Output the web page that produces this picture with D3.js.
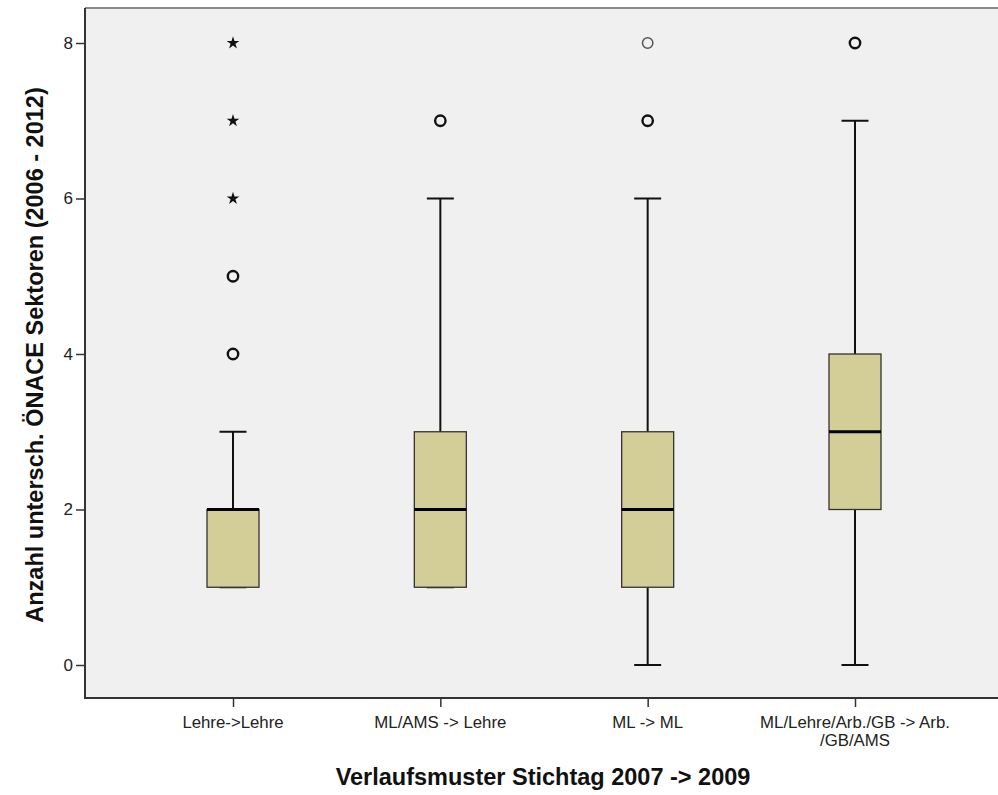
<!DOCTYPE html>
<html><head><meta charset="utf-8">
<script src="https://cdn.jsdelivr.net/npm/d3@7"></script>
<style>body{margin:0;background:#fff}svg{display:block}</style>
</head><body>
<svg id="c" width="998" height="795"></svg>
<script>
const categories = ["Lehre->Lehre", "ML/AMS -> Lehre", "ML -> ML", "ML/Lehre/Arb./GB -> Arb. /GB/AMS"];
const categoryLines = [["Lehre->Lehre"], ["ML/AMS -> Lehre"], ["ML -> ML"], ["ML/Lehre/Arb./GB -> Arb.", "/GB/AMS"]];
const whiskerLow = [1, 1, 0, 0];
const q1 = [1, 1, 1, 2];
const median = [2, 2, 2, 3];
const q3 = [2, 3, 3, 4];
const whiskerHigh = [3, 6, 6, 7];
const outliers = [[4, 5], [7], [7, 8], [8]];
const extremes = [[6, 7, 8], [], [], []];
const yTicks = [0, 2, 4, 6, 8];
const yTitle = "Anzahl untersch. ÖNACE Sektoren (2006 - 2012)";
const xTitle = "Verlaufsmuster Stichtag 2007 -> 2009";

const svg = d3.select("#c");
const L = 85, T = 8, B = 698, R = 1000;
const y = d3.scaleLinear().domain([0, 8]).range([665, 43]);
const x = d3.scalePoint().domain(categories).range([233, 855]);

svg.append("rect").attr("x", L).attr("y", T).attr("width", R - L).attr("height", B - T).attr("fill", "#f0f0f0");
svg.append("line").attr("x1", L).attr("x2", R).attr("y1", T).attr("y2", T).attr("stroke", "#8a8a8a").attr("stroke-width", 2);

const font = "Arial, 'Liberation Sans', sans-serif";
// y axis
const ya = svg.append("g").attr("transform", `translate(${L},0)`)
  .call(d3.axisLeft(y).tickValues(yTicks).tickSize(9).tickPadding(3).tickFormat(d3.format("d")));
ya.select(".domain").remove();
ya.selectAll(".tick line").attr("stroke", "#333").attr("stroke-width", 1.5);
ya.selectAll(".tick text").attr("font-family", font).attr("font-size", 17).attr("fill", "#222");
svg.append("line").attr("x1", L).attr("x2", L).attr("y1", T).attr("y2", B + 1).attr("stroke", "#333").attr("stroke-width", 2);

// x axis
const xa = svg.append("g").attr("transform", `translate(0,${B})`)
  .call(d3.axisBottom(x).tickSize(9).tickFormat(""));
xa.select(".domain").remove();
xa.selectAll(".tick line").attr("stroke", "#333").attr("stroke-width", 1.5);
svg.append("line").attr("x1", L - 1).attr("x2", R).attr("y1", B).attr("y2", B).attr("stroke", "#333").attr("stroke-width", 2);

categories.forEach((c, i) => {
  categoryLines[i].forEach((ln, k) => {
    svg.append("text").attr("x", x(c)).attr("y", 728 + k * 18).attr("text-anchor", "middle")
      .attr("font-family", font).attr("font-size", 16.8).attr("fill", "#222").text(ln);
  });
});

// boxes
const bw = 52, cw = 27;
categories.forEach((c, i) => {
  const cx = x(c);
  const g = svg.append("g");
  g.append("line").attr("x1", cx).attr("x2", cx).attr("y1", y(q3[i])).attr("y2", y(whiskerHigh[i])).attr("stroke", "#111").attr("stroke-width", 2);
  g.append("line").attr("x1", cx).attr("x2", cx).attr("y1", y(q1[i])).attr("y2", y(whiskerLow[i])).attr("stroke", "#111").attr("stroke-width", 2);
  g.append("line").attr("x1", cx - cw / 2).attr("x2", cx + cw / 2).attr("y1", y(whiskerHigh[i])).attr("y2", y(whiskerHigh[i])).attr("stroke", "#111").attr("stroke-width", 2);
  g.append("line").attr("x1", cx - cw / 2).attr("x2", cx + cw / 2).attr("y1", y(whiskerLow[i])).attr("y2", y(whiskerLow[i])).attr("stroke", "#111").attr("stroke-width", 2);
  g.append("rect").attr("x", cx - bw / 2).attr("width", bw).attr("y", y(q3[i])).attr("height", y(q1[i]) - y(q3[i]))
    .attr("fill", "#d3ce97").attr("stroke", "#333").attr("stroke-width", 1.3);
  g.append("line").attr("x1", cx - bw / 2).attr("x2", cx + bw / 2).attr("y1", y(median[i])).attr("y2", y(median[i])).attr("stroke", "#000").attr("stroke-width", 3);
  outliers[i].forEach(v => {
    const thin = (i === 2 && v === 8);
    g.append("circle").attr("cx", cx).attr("cy", y(v)).attr("r", 5.2)
      .attr("fill", "none").attr("stroke", thin ? "#555" : "#111").attr("stroke-width", thin ? 1.5 : 2.4);
  });
  extremes[i].forEach(v => {
    g.append("path").attr("d", d3.symbol(d3.symbolStar, 50)()).attr("transform", `translate(${cx},${y(v)})`).attr("fill", "#111");
  });
});

// titles
svg.append("text").attr("transform", "translate(43,355) rotate(-90)").attr("text-anchor", "middle")
  .attr("font-family", font).attr("font-weight", "bold").attr("font-size", 23.5).attr("fill", "#111").text(yTitle);
svg.append("text").attr("x", 543).attr("y", 785).attr("text-anchor", "middle")
  .attr("font-family", font).attr("font-weight", "bold").attr("font-size", 23.5).attr("fill", "#111").text(xTitle);
</script>
</body></html>
